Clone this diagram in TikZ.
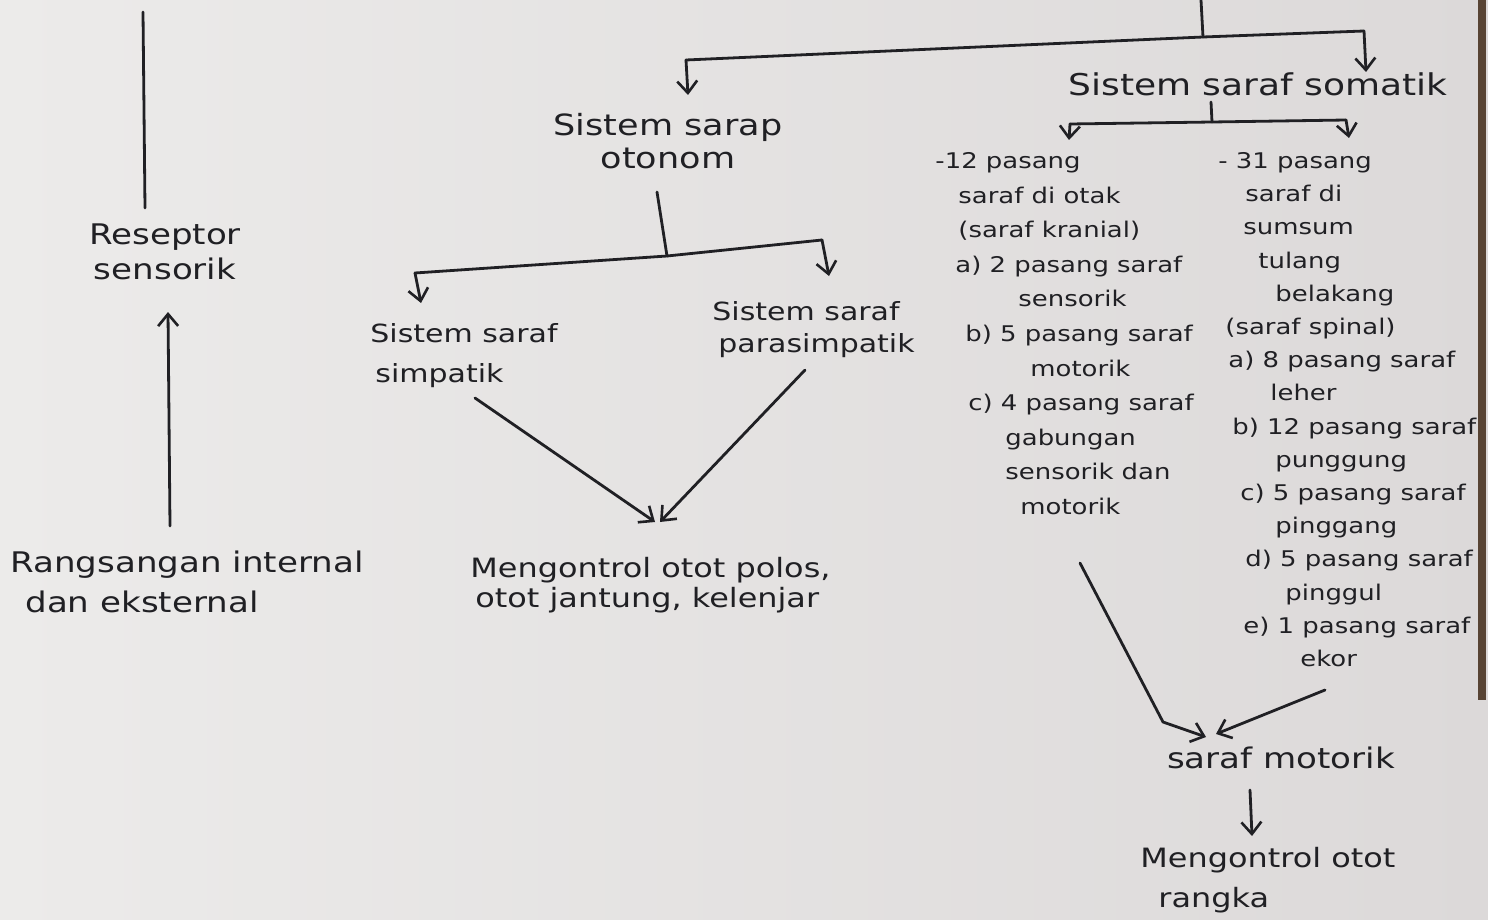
\documentclass[tikz,border=0pt]{standalone}
\usepackage{fontspec}
\setmainfont[FakeStretch=1.2]{DejaVu Sans}
\usepackage{tikz}
\usetikzlibrary{calc}
\usetikzlibrary{positioning}
\usetikzlibrary{arrows.meta}

\definecolor{inkc}{RGB}{32,32,36}
\definecolor{paperA}{RGB}{236,235,234}
\definecolor{paperB}{RGB}{220,217,217}
\definecolor{stripc}{RGB}{88,68,52}
\newcommand{\hand}[2]{\fontsize{#1}{#2}\selectfont}

\tikzset{
	ink/.style={draw=inkc, line width=1.4pt, line cap=round, line join=round},
	arr/.style={ink, -{Straight Barb[length=6pt, width=10pt, line width=1.3pt]}},
	txt/.style={inner sep=0pt, text=inkc}
}

\begin{document}
\begin{tikzpicture}[x=0.5pt, y=-0.5pt]
		% paper
		\shade[left color=paperA, right color=paperB] (0,0) rectangle (1488,920);
		\fill[stripc] (1478,0) rectangle (1486,700);
		\useasboundingbox (0,0) rectangle (1488,920);

		% texts
		\node[txt, anchor=north, align=center, font={\hand{14.2}{17.5}}] (reseptor) at (165,223) {Reseptor\\sensorik};
		\node[txt, anchor=north west, align=left, font={\hand{14.2}{20}}] (rangsang) at (10,551) {Rangsangan internal\\\hspace*{7.5pt}dan eksternal};
		\node[txt, anchor=north, align=center, font={\hand{14.6}{16.5}}] (otonom) at (668,113) {Sistem sarap\\otonom};
		\node[txt, anchor=base, font={\hand{15}{15}}] (somatik) at (1258,96) {Sistem saraf somatik};
		\node[txt, anchor=north west, align=left, font={\hand{12.5}{20}}] (simpatik) at (370,323) {Sistem saraf\\\hspace*{2.5pt}simpatik};
		\node[txt, anchor=north west, align=left, font={\hand{12.5}{16}}] (parasimpatik) at (712,301) {Sistem saraf\\\hspace*{3pt}parasimpatik};
		\node[txt, anchor=north west, align=left, font={\hand{13.3}{15}}] (polos) at (470,557) {Mengontrol otot polos,\\\hspace*{2.5pt}otot jantung, kelenjar};
		\node[txt, anchor=north west, align=left, font={\hand{10.8}{17.3}}] (kranial) at (935,152) {-12 pasang\\
			\hspace*{11.5pt}saraf di otak\\
			\hspace*{11.5pt}(saraf kranial)\\
			\hspace*{10pt}a) 2 pasang saraf\\
			\hspace*{41.5pt}sensorik\\
			\hspace*{15pt}b) 5 pasang saraf\\
			\hspace*{47.5pt}motorik\\
			\hspace*{16.5pt}c) 4 pasang saraf\\
			\hspace*{35pt}gabungan\\
			\hspace*{35pt}sensorik dan\\
			\hspace*{42.5pt}motorik};
		\node[txt, anchor=north west, align=left, font={\hand{10.8}{16.6}}] (spinal) at (1218,152) {- 31 pasang\\
			\hspace*{13.5pt}saraf di\\
			\hspace*{12.5pt}sumsum\\
			\hspace*{20pt}tulang\\
			\hspace*{28.5pt}belakang\\
			\hspace*{3.5pt}(saraf spinal)\\
			\hspace*{5pt}a) 8 pasang saraf\\
			\hspace*{26pt}leher\\
			\hspace*{7pt}b) 12 pasang saraf\\
			\hspace*{28.5pt}punggung\\
			\hspace*{11pt}c) 5 pasang saraf\\
			\hspace*{28.5pt}pinggang\\
			\hspace*{13.5pt}d) 5 pasang saraf\\
			\hspace*{33.5pt}pinggul\\
			\hspace*{12.5pt}e) 1 pasang saraf\\
			\hspace*{41pt}ekor};
		\node[txt, anchor=base, font={\hand{14.2}{17}}] (motorik) at (1281,768) {saraf motorik};
		\node[txt, anchor=north west, align=left, font={\hand{13.3}{20}}] (rangka) at (1140,847) {Mengontrol otot\\\hspace*{9pt}rangka};

		% connector ends
		\coordinate (t0) at (1201,0);
		\coordinate (t1) at (1203,37);
		\coordinate (bL) at (686,60);
		\coordinate (bLe) at (688,95);
		\coordinate (bR) at (1364,31);
		\coordinate (bRe) at (1366,72);

		\coordinate (s0) at (1211,102);
		\coordinate (s1) at (1212,122);
		\coordinate (sL) at (1070,124);
		\coordinate (sLe) at (1069,140);
		\coordinate (sR) at (1346,120);
		\coordinate (sRe) at (1349,138);

		\coordinate (o0) at (657,192);
		\coordinate (o1) at (667,256);
		\coordinate (oL) at (415,273);
		\coordinate (oLe) at (421,303);
		\coordinate (oR) at (822,240);
		\coordinate (oRe) at (829,276);

		\coordinate (vs) at (475,398);
		\coordinate (vp) at (805,370);
		\coordinate (v1) at (655,522);
		\coordinate (v2) at (660,522);

		\coordinate (k0) at (1080,563);
		\coordinate (kb) at (1163,722);
		\coordinate (k1) at (1206,737);
		\coordinate (e0) at (1325,690);
		\coordinate (e1) at (1216,734);
		\coordinate (m0) at (1250,790);
		\coordinate (m1) at (1252,836);

		\coordinate (l0) at (143,12);
		\coordinate (l1) at (145,208);
		\coordinate (r0) at (170,526);
		\coordinate (r1) at (168,312);

		% brackets
		\draw[ink] (t0) -- (t1);
		\draw[ink] (bL) -- (t1) -- (bR);
		\draw[ink] (s0) -- (s1);
		\draw[ink] (sL) -- (s1) -- (sR);
		\draw[ink] (o0) -- (o1);
		\draw[ink] (oL) -- (o1) -- (oR);
		\foreach \a/\b in {bL/bLe, bR/bRe, sL/sLe, sR/sRe, oL/oLe, oR/oRe}
			\draw[arr] (\a) -- (\b);

		% arrows
		\draw[arr] (vs) -- (v1);
		\draw[arr] (vp) -- (v2);
		\draw[arr] (k0) -- (kb) -- (k1);
		\draw[arr] (e0) -- (e1);
		\draw[arr] (m0) -- (m1);
		\draw[ink] (l0) -- (l1);
		\draw[arr] (r0) -- (r1);
\end{tikzpicture}
\end{document}
